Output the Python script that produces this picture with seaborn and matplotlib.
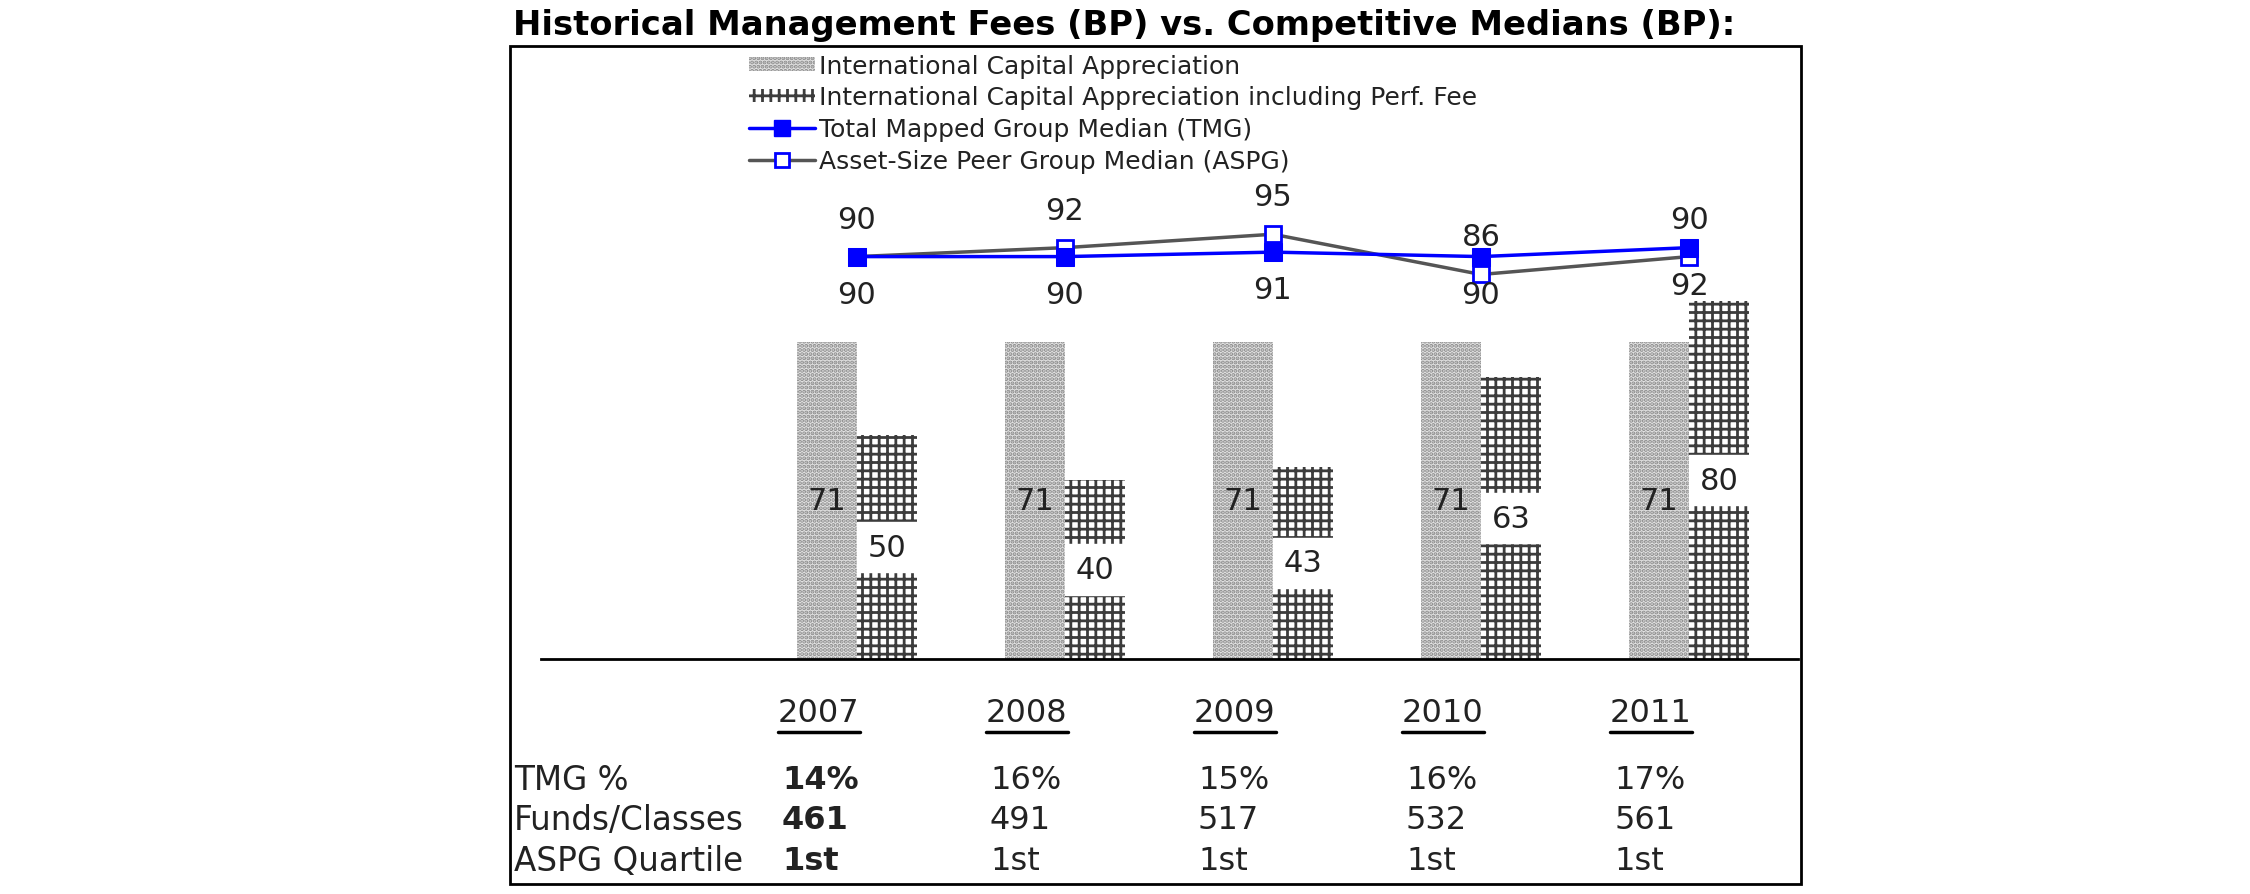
import numpy as np
import pandas as pd
import matplotlib
matplotlib.use("Agg")
import matplotlib.pyplot as plt
import seaborn as sns
from matplotlib.patches import Patch, Rectangle
from matplotlib.lines import Line2D


# -------------------- DATA --------------------
years = ["2007", "2008", "2009", "2010", "2011"]
ica_fee = [71, 71, 71, 71, 71]
ica_perf_fee = [50, 40, 43, 63, 80]
tmg_median = [90, 90, 91, 90, 92]
aspg_median = [90, 92, 95, 86, 90]

row_labels = ["TMG %", "Funds/Classes", "ASPG Quartile"]
tmg_pct = ["14%", "16%", "15%", "16%", "17%"]
funds_classes = ["461", "491", "517", "532", "561"]
aspg_quartile = ["1st", "1st", "1st", "1st", "1st"]

series_names = [
    "International Capital Appreciation",
    "International Capital Appreciation including Perf. Fee",
    "Total Mapped Group Median (TMG)",
    "Asset-Size Peer Group Median (ASPG)",
]

W, H = 2250, 895

sns.set_style("white")
plt.rcParams["font.family"] = ["DejaVu Sans"]
plt.rcParams["hatch.linewidth"] = 2.0

GRAY_FACE = "#e2e2e2"
GRAY_HATCH = "#8a8a8a"
GRID_HATCH = "#3c3c3c"
BLUE = "#0000ff"
LINE_GRAY = "#555555"
TXT = "#222222"


def fx(px):
    return px / W


def fy(px):
    return 1 - px / H


# -------------------- PLOT --------------------
fig = plt.figure(figsize=(22.5, 8.95), dpi=100)
ax = fig.add_axes([fx(541), fy(660), fx(1798) - fx(541), (660 - 47) / H])

df = pd.DataFrame({
    "Year": years * 2,
    "Fee": ica_fee + ica_perf_fee,
    "Series": [series_names[0]] * 5 + [series_names[1]] * 5,
})

sns.barplot(
    data=df, x="Year", y="Fee", hue="Series",
    width=0.58, gap=0, dodge=True, ax=ax, legend=False,
    palette=[GRAY_FACE, "white"], saturation=1,
)

for bar in ax.containers[0]:
    bar.set_facecolor(GRAY_FACE)
    bar.set_edgecolor(GRAY_HATCH)
    bar.set_hatch("....")
    bar.set_linewidth(0)
for bar in ax.containers[1]:
    bar.set_facecolor("white")
    bar.set_edgecolor(GRID_HATCH)
    bar.set_hatch("++")
    bar.set_linewidth(0)

# bar value labels
for bar, v in zip(ax.containers[0], ica_fee):
    ax.text(bar.get_x() + bar.get_width() / 2, v / 2, str(v),
            ha="center", va="center", fontsize=22, color=TXT, zorder=5)
for bar, v in zip(ax.containers[1], ica_perf_fee):
    ax.text(bar.get_x() + bar.get_width() / 2, v / 2, str(v),
            ha="center", va="center", fontsize=22, color=TXT, zorder=5,
            bbox=dict(boxstyle="square,pad=0.35", fc="white", ec="white", lw=1))

xpos = np.arange(len(years))
sns.lineplot(x=xpos, y=aspg_median, ax=ax, color=LINE_GRAY, lw=2.5,
             marker="s", markersize=12, markerfacecolor="white",
             markeredgecolor=BLUE, markeredgewidth=2, zorder=3)
sns.lineplot(x=xpos, y=tmg_median, ax=ax, color=BLUE, lw=2.5,
             marker="s", markersize=13, markerfacecolor=BLUE,
             markeredgecolor=BLUE, zorder=4)

# line labels: ASPG above, TMG below
for x, a, t in zip(xpos, aspg_median, tmg_median):
    ax.annotate(str(a), (x, a), xytext=(0, 27), textcoords="offset points",
                ha="center", va="center", fontsize=22, color=TXT)
    ax.annotate(str(t), (x, t), xytext=(0, -27), textcoords="offset points",
                ha="center", va="center", fontsize=22, color=TXT)

ax.set_xlim(-1.519, 4.524)
ax.set_ylim(0, 137.1)
ax.set_xticks([])
ax.set_yticks([])
ax.set_xlabel("")
ax.set_ylabel("")
for side in ["top", "left", "right"]:
    ax.spines[side].set_visible(False)
ax.spines["bottom"].set_color("black")
ax.spines["bottom"].set_linewidth(2)

# -------------------- TABLE BELOW --------------------
px_per_unit = (1798 - 541) / (4.524 + 1.519)
px_per_val = (660 - 47) / 137.1


def dy(px_row):
    return -(px_row - 660) / px_per_val


col_left = xpos - 79 / px_per_unit
year_texts = []
for x, y in zip(col_left, years):
    year_texts.append(ax.text(x, dy(714), y, ha="left", va="center",
                              fontsize=23, color=TXT))

rows = [tmg_pct, funds_classes, aspg_quartile]
row_y = [781, 821, 862]
label_x = -(857 - 514) / px_per_unit
for lab, vals, ry in zip(row_labels, rows, row_y):
    ax.text(label_x, dy(ry), lab, ha="left", va="center", fontsize=23.5, color=TXT)
    for i, (x, v) in enumerate(zip(col_left, vals)):
        ax.text(x + 4 / px_per_unit, dy(ry), v, ha="left", va="center",
                fontsize=23, color=TXT,
                fontweight="bold" if i == 0 else "normal")

# underline years
fig.canvas.draw()
inv = ax.transData.inverted()
for t in year_texts:
    bb = t.get_window_extent()
    x0 = inv.transform((bb.x0, 0))[0]
    x1 = inv.transform((bb.x1, 0))[0]
    ax.plot([x0, x1], [dy(733), dy(733)], color="black", lw=2.5, clip_on=False)

# -------------------- LEGEND / TITLE / FRAME --------------------
handles = [
    Patch(facecolor=GRAY_FACE, edgecolor=GRAY_HATCH, hatch="....", lw=0, label=series_names[0]),
    Patch(facecolor="white", edgecolor=GRID_HATCH, hatch="++", lw=0, label=series_names[1]),
    Line2D([], [], color=BLUE, lw=2.5, marker="s", markersize=12,
           markerfacecolor=BLUE, markeredgecolor=BLUE, label=series_names[2]),
    Line2D([], [], color=LINE_GRAY, lw=2.5, marker="s", markersize=10,
           markerfacecolor="white", markeredgecolor=BLUE, markeredgewidth=2,
           label=series_names[3]),
]
fig.legend(handles=handles, loc="upper left", bbox_to_anchor=(fx(749), fy(55)),
           frameon=False, fontsize=18, handlelength=2.65, handleheight=0.45,
           handletextpad=0.15, labelspacing=0.3, borderpad=0, borderaxespad=0,
           labelcolor=TXT)

fig.text(fx(513), fy(25), "Historical Management Fees (BP) vs. Competitive Medians (BP):",
         ha="left", va="center", fontsize=24.3, fontweight="bold", color="black")

fig.add_artist(Rectangle((fx(510), fy(885)), fx(1801) - fx(510), (885 - 47) / H,
                         transform=fig.transFigure, fill=False, lw=2, ec="black"))

fig.savefig("out.png", dpi=100, facecolor="white")
